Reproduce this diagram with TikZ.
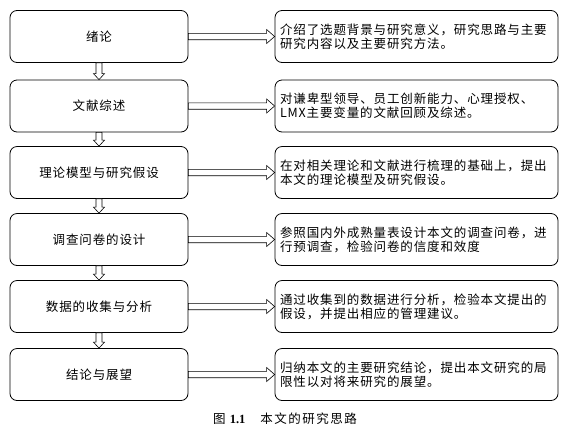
\documentclass[tikz,border=0pt]{standalone}
\usepackage{fontspec}
\setmainfont{Liberation Serif}
\newfontfamily\cjk{Noto Sans CJK SC}[LetterSpace=7]
\newfontfamily\capcjk{Noto Sans CJK SC}[LetterSpace=12]
\usetikzlibrary{positioning,calc}
\tikzset{
  % --- boxes -----------------------------------------------------------------
  stage/.style={rectangle,draw,rounded corners=7pt,line width=0.8pt,
                minimum width=178pt,minimum height=52pt,inner sep=4pt,
                font=\cjk\fontsize{12.5}{14}\selectfont},
  detail/.style={stage,minimum width=283pt,text width=273pt,align=left,
                 inner sep=5pt},
  % --- hollow block arrows (outline drawn from node to node) -----------------
  fatright/.style={draw,line width=0.6pt,fill=white,
    to path={let \p1=(\tikztostart), \p2=(\tikztotarget) in
      (\x1,\y1+3.2pt) -- (\x2-8pt,\y1+3.2pt) -- (\x2-8pt,\y1+7pt) -- (\x2,\y1)
      -- (\x2-8pt,\y1-7pt) -- (\x2-8pt,\y1-3.2pt) -- (\x1,\y1-3.2pt) -- cycle}},
  fatdown/.style={draw,line width=0.6pt,fill=white,
    to path={let \p1=(\tikztostart), \p2=(\tikztotarget) in
      (\x1-3pt,\y1) -- (\x1-3pt,\y2+6pt) -- (\x1-5.5pt,\y2+6pt) -- (\x1,\y2)
      -- (\x1+5.5pt,\y2+6pt) -- (\x1+3pt,\y2+6pt) -- (\x1+3pt,\y1) -- cycle}},
}
\begin{document}
\begin{tikzpicture}[x=1pt,y=-1pt]
  \useasboundingbox (0,0) rectangle (564,432);

  % {row}{centre y}{stage}{first line}{second line}
  \foreach \i/\y/\stg/\la/\lb in {%
      1/36.5/绪论/介绍了选题背景与研究意义，研究思路与主要/研究内容以及主要研究方法。,
      2/106/文献综述/对谦卑型领导、员工创新能力、心理授权、/LMX主要变量的文献回顾及综述。,
      3/172.5/理论模型与研究假设/在对相关理论和文献进行梳理的基础上，提出/本文的理论模型及研究假设。,
      4/239.5/调查问卷的设计/参照国内外成熟量表设计本文的调查问卷，进/行预调查，检验问卷的信度和效度,
      5/306.5/数据的收集与分析/通过收集到的数据进行分析，检验本文提出的/假设，并提出相应的管理建议。,
      6/374.5/结论与展望/归纳本文的主要研究结论，提出本文研究的局/限性以对将来研究的展望。}
  {
    \node[stage]  (s\i) at (99,\y)    {\stg};
    \node[detail] (d\i) at (416.5,\y) {\la\\\lb};
    \draw[fatright] (s\i.east) to (d\i.west);
  }

  \foreach \i [evaluate=\i as \j using int(\i+1)] in {1,...,5}{
    \draw[fatdown] (s\i.south) to (s\j.north);
  }

  \node (cap) at (285,419)
       {\capcjk\fontsize{12.5}{13}\selectfont 图 {\rmfamily\bfseries\fontsize{12.5}{13}\selectfont 1.1}\hspace{1.2em}本文的研究思路};
\end{tikzpicture}
\end{document}
